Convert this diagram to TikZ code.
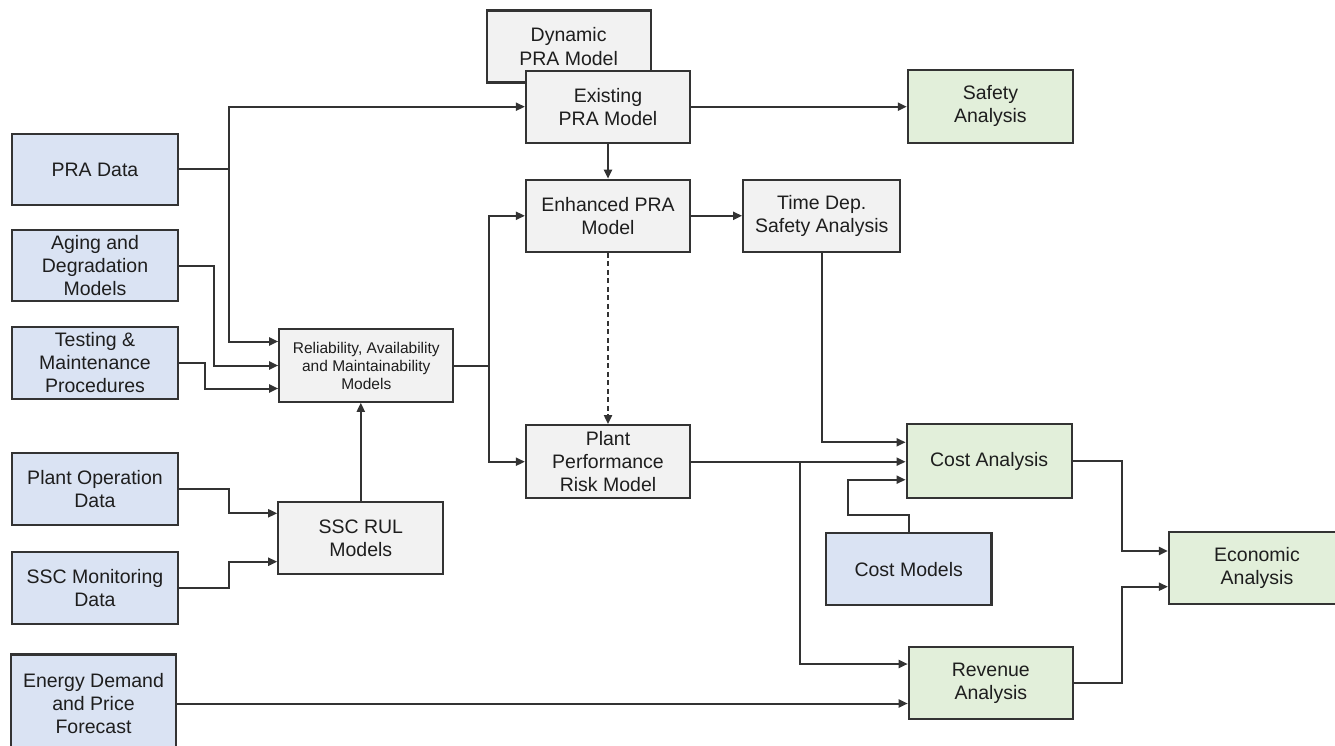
\documentclass[tikz,border=0pt]{standalone}
\usepackage{fontspec}
\setmainfont{Liberation Sans}
\usetikzlibrary{arrows.meta}

\definecolor{inblue}{HTML}{DAE3F3}
\definecolor{outgreen}{HTML}{E2EFDA}
\definecolor{midgray}{HTML}{F2F2F2}
\definecolor{edge}{HTML}{333333}
\definecolor{ink}{HTML}{1E1E1E}

\tikzset{
  box/.style={draw=edge, line width=2.2pt, inner sep=0pt, align=center,
    text=ink, font=\fontsize{19.5}{23.3}\selectfont},
  inbox/.style={box, fill=inblue},
  outbox/.style={box, fill=outgreen},
  modbox/.style={box, fill=midgray},
  link/.style={draw=edge, line width=2pt},
  arr/.style={link, -{Triangle[length=9pt,width=8pt]}},
}

\begin{document}
\begin{tikzpicture}[x=1pt, y=-1pt]
\useasboundingbox (0,0) rectangle (1335,746);
\clip (0,0) rectangle (1335,746);

% model boxes (Dynamic PRA sits behind Existing PRA)
\node[modbox, minimum width=164pt, minimum height=72pt] (dyn) at (568.6,46.5) {Dynamic\\PRA Model};
\node[modbox, minimum width=164pt, minimum height=72pt] (ex)  at (608,106.7) {Existing\\PRA Model};
\node[modbox, minimum width=164pt, minimum height=72pt] (enh) at (608,215.8) {Enhanced PRA\\Model};
\node[modbox, minimum width=157pt, minimum height=72pt] (tds) at (821.7,215.8) {Time Dep.\\Safety Analysis};
\node[modbox, minimum width=174pt, minimum height=72.4pt,
      font=\fontsize{15.5}{18}\selectfont] (ram) at (366.3,365.5)
      {Reliability, Availability\\and Maintainability\\Models};
\node[modbox, minimum width=164pt, minimum height=73pt] (ppr) at (608,461.7) {Plant\\Performance\\Risk Model};
\node[modbox, minimum width=165pt, minimum height=72pt] (rul) at (360.8,538.3) {SSC RUL\\Models};

% input boxes
\node[inbox, minimum width=165.4pt, minimum height=71pt] (pra) at (95,169.5) {PRA Data};
\node[inbox, minimum width=165.4pt, minimum height=71.6pt] (age) at (95,265.5) {Aging and\\Degradation\\Models};
\node[inbox, minimum width=165.4pt, minimum height=72pt] (tst) at (95,362.7) {Testing \&\\Maintenance\\Procedures};
\node[inbox, minimum width=165.4pt, minimum height=71.7pt] (pod) at (95,488.9) {Plant Operation\\Data};
\node[inbox, minimum width=165.4pt, minimum height=72.6pt] (smd) at (95,588) {SSC Monitoring\\Data};
\node[inbox, minimum width=165pt, minimum height=98pt] (eng) at (93.5,703.5) {Energy Demand\\and Price\\Forecast};
\node[inbox, minimum width=165.4pt, minimum height=72pt] (cmod) at (908.7,569.3) {Cost Models};

% analysis boxes
\node[outbox, minimum width=165pt, minimum height=72.7pt] (saf) at (990.4,106.3) {Safety\\Analysis};
\node[outbox, minimum width=165pt, minimum height=74pt] (cost) at (989.2,461.3) {Cost Analysis};
\node[outbox, minimum width=164pt, minimum height=72pt] (rev) at (990.8,683.3) {Revenue\\Analysis};
\node[outbox, minimum width=176pt, minimum height=72pt] (eco) at (1257,568.3) {Economic\\Analysis};

% junction points of the routed connectors
\coordinate (j1) at (228.5,169.5);
\coordinate (j2) at (489,365.5);
\coordinate (j3) at (800,461.7);
\coordinate (cmk) at (848,515);

% PRA data feeds the existing model and the RAM models
\draw[link] (pra.east) -- (j1);
\draw[arr] (j1) |- (ex.west);
\draw[arr] (j1) |- ([yshift=24pt]ram.west);

% other RAM inputs
\draw[arr] (age.east) -- ++(35.6,0) |- (ram.west);
\draw[arr] (tst.east) -- ++(26.3,0) |- ([yshift=-23pt]ram.west);

% RUL inputs and output
\draw[arr] (pod.east) -- ++(50.3,0) |- ([yshift=25pt]rul.west);
\draw[arr] (smd.east) -- ++(50.3,0) |- ([yshift=-23.4pt]rul.west);
\draw[arr] (rul.north) -- (rul.north |- ram.south);

% RAM models feed the enhanced PRA and plant performance models
\draw[link] (ram.east) -- (j2);
\draw[arr] (j2) |- (enh.west);
\draw[arr] (j2) |- (ppr.west);

% PRA chain
\draw[arr] (ex.south) -- (enh.north);
\draw[arr] (ex.east) -- (ex.east -| saf.west);
\draw[arr] (enh.east) -- (tds.west);
\draw[arr, dash pattern=on 5pt off 3.5pt] (enh.south) -- (ppr.north);

% into cost and revenue analyses
\draw[arr] (tds.south) |- ([yshift=19pt]cost.west);
\draw[arr] (ppr.east) -- (ppr.east -| cost.west);
\draw[arr] (j3) |- ([yshift=19.3pt]rev.west);
\draw[arr] (cmod.north) |- (cmk) |- ([yshift=-18.4pt]cost.west);
\draw[arr] (eng.east) -- (eng.east -| rev.west);

% into the economic analysis
\draw[arr] (cost.east) -- ++(48.8,0) |- ([yshift=17.3pt]eco.west);
\draw[arr] (rev.east) -- ++(47.7,0) |- ([yshift=-18.4pt]eco.west);
\end{tikzpicture}
\end{document}
